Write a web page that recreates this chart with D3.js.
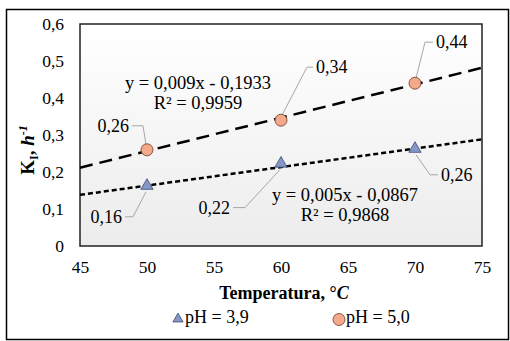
<!DOCTYPE html>
<html>
<head>
<meta charset="utf-8">
<script src="https://cdn.jsdelivr.net/npm/d3@7"></script>
<style>
  body { margin: 0; background: #fff; }
  svg text { font-family: "Liberation Serif"; fill: #000; }
</style>
</head>
<body>
<div id="plot"></div>
<script>
var margin = {top: 24, right: 28, bottom: 95, left: 80}
  , width = 510 - margin.left - margin.right
  , height = 341 - margin.top - margin.bottom;

// data
var temps = [50, 60, 70];
var ph39 = [0.16, 0.22, 0.26];
var ph50 = [0.26, 0.34, 0.44];
var xTicks = [45, 50, 55, 60, 65, 70, 75];
var yTicks = [0, 0.1, 0.2, 0.3, 0.4, 0.5, 0.6];
// trendlines: slope, intercept, R²
var trend39 = [0.005, -0.0867];
var trend50 = [0.009, -0.1933];
var r2 = [0.9868, 0.9959];
var seriesNames = ["pH = 3,9", "pH = 5,0"];

var fmt = v => String(v).replace(".", ",");
var serif = "Liberation Serif";

var xScale = d3.scaleLinear().domain([45, 75]).range([0, width]);
var yScale = d3.scaleLinear().domain([0, 0.6]).range([height, 0]);

var svg = d3.select("#plot")
  .append("svg")
    .attr("width", 510)
    .attr("height", 341)
    .attr("font-family", serif);

// outer frame
svg.append("rect")
  .attr("x", 6.5).attr("y", 9.5)
  .attr("width", 502).attr("height", 330)
  .attr("fill", "none").attr("stroke", "#000").attr("stroke-width", 1.5);

var defs = svg.append("defs");
var grad = defs.append("linearGradient").attr("id", "bg")
  .attr("x1", 0).attr("y1", 0).attr("x2", 0).attr("y2", 1);
grad.append("stop").attr("offset", "0%").attr("stop-color", "#ffffff");
grad.append("stop").attr("offset", "100%").attr("stop-color", "#ececec");

var g = svg.append("g")
  .attr("transform", "translate(" + margin.left + "," + margin.top + ")");

g.append("rect")
  .attr("width", width).attr("height", height)
  .attr("fill", "url(#bg)").attr("stroke", "#222").attr("stroke-width", 1.5);

// axes (labels only, no tick marks)
var xAxis = g.append("g")
  .attr("transform", "translate(0," + height + ")")
  .call(d3.axisBottom(xScale).tickValues(xTicks).tickSize(0).tickPadding(15));
var yAxis = g.append("g")
  .call(d3.axisLeft(yScale).tickValues(yTicks).tickSize(0).tickPadding(16).tickFormat(fmt));
[xAxis, yAxis].forEach(a => {
  a.attr("font-family", serif).attr("font-size", 17.5);
  a.select(".domain").remove();
});

// trendlines
function trendLine(t) {
  return [45, 75].map(x => ({x: x, y: t[0] * x + t[1]}));
}
var line = d3.line().x(d => xScale(d.x)).y(d => yScale(d.y));

g.append("path")
  .datum(trendLine(trend50))
  .attr("d", line)
  .attr("fill", "none").attr("stroke", "#000")
  .attr("stroke-width", 2.5).attr("stroke-dasharray", "13,7");

g.append("path")
  .datum(trendLine(trend39))
  .attr("d", line)
  .attr("fill", "none").attr("stroke", "#000")
  .attr("stroke-width", 2.5).attr("stroke-dasharray", "5,3");

// leader lines + data labels: corner offset from the point, horizontal stub length
var labels39 = [
  {dx: -14, dy: 30, h: 8, anchor: "end"},
  {dx: -36, dy: 43, h: 12, anchor: "end"},
  {dx: 15, dy: 25, h: 8, anchor: "start"}
];
var labels50 = [
  {dx: -4, dy: -24, h: 11, anchor: "end"},
  {dx: 26, dy: -53, h: 6, anchor: "start"},
  {dx: 10, dy: -41, h: 8, anchor: "start"}
];

function drawLabels(vals, conf) {
  vals.forEach((v, i) => {
    var px = xScale(temps[i]), py = yScale(v), c = conf[i];
    var ex = px + c.dx, ey = py + c.dy;
    var hx = c.anchor === "end" ? ex - c.h : ex + c.h;
    var sy = c.dy > 0 ? py + 5 : py - 5;
    var sx = px + (c.dx > 0 ? 1 : -1);
    g.append("path")
      .attr("d", "M" + sx + "," + sy + "L" + ex + "," + ey + "L" + hx + "," + ey)
      .attr("fill", "none").attr("stroke", "#a6a6a6").attr("stroke-width", 1);
    g.append("text")
      .attr("x", c.anchor === "end" ? hx - 3 : hx + 3)
      .attr("y", ey + 6)
      .attr("text-anchor", c.anchor)
      .attr("font-size", 18)
      .text(fmt(v));
  });
}
drawLabels(ph39, labels39);
drawLabels(ph50, labels50);

// markers
var tri = d3.symbol().type(d3.symbolTriangle).size(65);
g.selectAll(".tri")
  .data(ph39)
  .enter().append("path")
  .attr("class", "tri")
  .attr("d", tri)
  .attr("transform", (d, i) => "translate(" + xScale(temps[i]) + "," + (yScale(d) - 1) + ")")
  .attr("fill", "#8497c7").attr("stroke", "#3a4a6e").attr("stroke-width", 0.8);

g.selectAll(".dot")
  .data(ph50)
  .enter().append("circle")
  .attr("class", "dot")
  .attr("cx", (d, i) => xScale(temps[i]))
  .attr("cy", d => yScale(d))
  .attr("r", 6)
  .attr("fill", "#f4a98a").attr("stroke", "#6b3a2a").attr("stroke-width", 0.8);

// equations
function equation(cx, cy, t, rr) {
  var s = t[1] < 0 ? " - " : " + ";
  g.append("text").attr("x", cx).attr("y", cy).attr("text-anchor", "middle")
    .attr("font-size", 18.5)
    .text("y = " + fmt(t[0]) + "x" + s + fmt(Math.abs(t[1])));
  g.append("text").attr("x", cx).attr("y", cy + 20).attr("text-anchor", "middle")
    .attr("font-size", 18.5)
    .text("R² = " + fmt(rr));
}
equation(118, 65, trend50, r2[1]);
equation(265, 177, trend39, r2[0]);

// x axis title
var xt = svg.append("text")
  .attr("x", 284).attr("y", 299)
  .attr("text-anchor", "middle").attr("font-size", 18).attr("font-weight", "bold");
xt.append("tspan").text("Temperatura, °");
xt.append("tspan").attr("font-style", "italic").text("C");

// y axis title
var yt = svg.append("text")
  .attr("transform", "translate(34,150) rotate(-90)")
  .attr("text-anchor", "middle").attr("font-size", 19).attr("font-weight", "bold");
yt.append("tspan").text("K");
yt.append("tspan").attr("font-size", 12).attr("dy", 4).text("I");
yt.append("tspan").attr("dy", -4).text(", ");
yt.append("tspan").attr("font-style", "italic").text("h");
yt.append("tspan").attr("font-size", 12).attr("dy", -7).attr("font-style", "italic").text("-1");

// legend
var legend = svg.append("g").attr("transform", "translate(0,323)");
legend.append("path")
  .attr("d", d3.symbol().type(d3.symbolTriangle).size(45))
  .attr("transform", "translate(178,-4)")
  .attr("fill", "#8497c7").attr("stroke", "#3a4a6e").attr("stroke-width", 0.8);
legend.append("text").attr("x", 185).attr("y", 0).attr("font-size", 18).text(seriesNames[0]);
legend.append("circle")
  .attr("cx", 339).attr("cy", -3.5).attr("r", 6)
  .attr("fill", "#f4a98a").attr("stroke", "#6b3a2a").attr("stroke-width", 0.8);
legend.append("text").attr("x", 346).attr("y", 0).attr("font-size", 18).text(seriesNames[1]);
</script>
</body>
</html>
